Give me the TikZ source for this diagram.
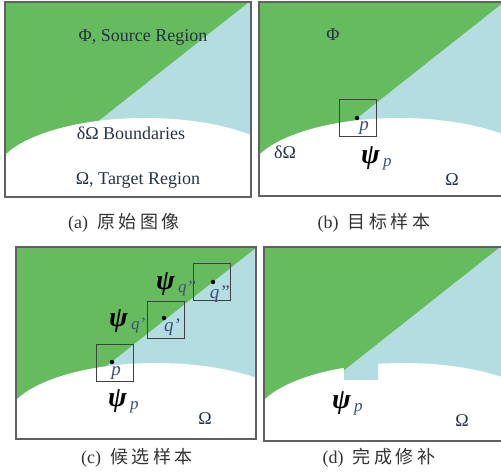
\documentclass[tikz,border=0pt]{standalone}
\usepackage{fontspec}
\setmainfont{Liberation Serif}
\newfontfamily\cjk[LetterSpace=20]{Noto Sans CJK SC}
\usepackage{tikz}

\definecolor{srcgreen}{HTML}{66BB5E}
\definecolor{srcblue}{HTML}{B4DDE2}
\definecolor{lblcol}{HTML}{3E5070}
\definecolor{txtcol}{HTML}{263345}
\definecolor{capcol}{HTML}{333333}

\tikzset{
  panelframe/.style={draw=black!62, line width=1.2pt},
  patchbox/.style={draw=black!75, line width=1pt, minimum width=37pt,
                   minimum height=37pt, inner sep=0pt},
  pix/.style={circle, fill=black, inner sep=0pt, minimum size=4.5pt},
  txt/.style={font=\fontsize{18}{20}\selectfont, text=txtcol, inner sep=0pt},
  ptlbl/.style={font=\fontsize{19}{20}\selectfont\itshape, text=lblcol, inner sep=0pt},
  psilbl/.style={font=\fontsize{28}{30}\selectfont, inner sep=0pt, anchor=base west},
  subcap/.style={font=\fontsize{18}{20}\selectfont, text=capcol, inner sep=0pt},
}

% source region: blue, green above the diagonal (w, h, top x of diagonal)
\newcommand\srcfill[3]{%
  \fill[srcblue] (0,0) rectangle (#1,#2);
  \fill[srcgreen] (0,0) -- (#3,0) -- ({#3-#2/0.79},#2) -- (0,#2) -- cycle;
}
% whole panel with the target region cut out
\newcommand\regionfill[3]{%
  \begin{scope}
    \clip (0,0) rectangle (#1,#2);
    \srcfill{#1}{#2}{#3}
    \fill[white] (140,174) ellipse [x radius=150, y radius=58];
    \fill[white] (-1,174) rectangle (#1+1,#2+1);
  \end{scope}
}
\newcommand\psisub[1]{\textbf{\textit{ψ}}\kern3pt\raisebox{-3pt}{\fontsize{17}{17}\selectfont\itshape\color{lblcol}#1}}

\begin{document}
\begin{tikzpicture}[x=1pt, y=-1pt]
  \useasboundingbox (0,0) rectangle (501,476);

  % Panel (a)
  \begin{scope}[shift={(5,2)}]
    \regionfill{246}{195}{244}
    \draw[panelframe] (0,0) rectangle (246,195);
  \end{scope}
  \node[txt] (srca) at (143,37)  {Φ, Source Region};
  \node[txt] (bnda) at (131,133) {δΩ Boundaries};
  \node[txt] (tgta) at (138,180) {Ω, Target Region};
  \node[subcap] (capa) at (124,223) {(a)\hspace{9pt}{\cjk 原始图像}};

  % Panel (b)
  \begin{scope}[shift={(259,2)}]
    \regionfill{244}{194}{245}
    \draw[panelframe] (0,0) rectangle (244,194);
  \end{scope}
  \node[txt] (phib) at (333,35)  {Φ};
  \node[txt] (bndb) at (285,152) {δΩ};
  \node[txt] (tgtb) at (452,180) {Ω};
  \node[patchbox] (boxpb) at (358,118.5) {};
  \node[pix] (pb) at (357,118) {};
  \node[ptlbl] (lblpb) at (364,128) {p};
  \node[psilbl] (psipb) at (361,164) {\psisub{p}};
  \node[subcap] (capb) at (374,223) {(b)\hspace{9pt}{\cjk 目标样本}};

  % Panel (c)
  \begin{scope}[shift={(16,247)}]
    \regionfill{240}{192}{241}
    \draw[panelframe] (0,0) rectangle (240,192);
  \end{scope}
  \node[patchbox] (boxpc) at (114.5,362.5) {};
  \node[pix] (pc) at (112,362) {};
  \node[ptlbl] (lblpc) at (116,373) {p};
  \node[patchbox] (boxq1) at (165.5,320) {};
  \node[pix] (q1) at (164,318) {};
  \node[ptlbl] (lblq1) at (172,327) {q'};
  \node[patchbox] (boxq2) at (212,281.5) {};
  \node[pix] (q2) at (213,282) {};
  \node[ptlbl] (lblq2) at (220,294) {q"};
  \node[psilbl] (psipc) at (108,406) {\psisub{p}};
  \node[psilbl] (psiq1) at (109,326) {\psisub{q'}};
  \node[psilbl] (psiq2) at (156,289) {\psisub{q"}};
  \node[txt] (tgtc) at (205,419) {Ω};
  \node[subcap] (capc) at (137,458) {(c)\hspace{9pt}{\cjk 候选样本}};

  % Panel (d)
  \begin{scope}[shift={(264,247)}]
    \regionfill{240}{194}{236}
    % filled patch
    \begin{scope}
      \clip (80,100) rectangle (114,132);
      \srcfill{240}{194}{236}
    \end{scope}
    \draw[panelframe] (0,0) rectangle (240,194);
  \end{scope}
  \node[psilbl] (psipd) at (332,408) {\psisub{p}};
  \node[txt] (tgtd) at (462,421) {Ω};
  \node[subcap] (capd) at (379,458) {(d)\hspace{9pt}{\cjk 完成修补}};

\end{tikzpicture}
\end{document}
